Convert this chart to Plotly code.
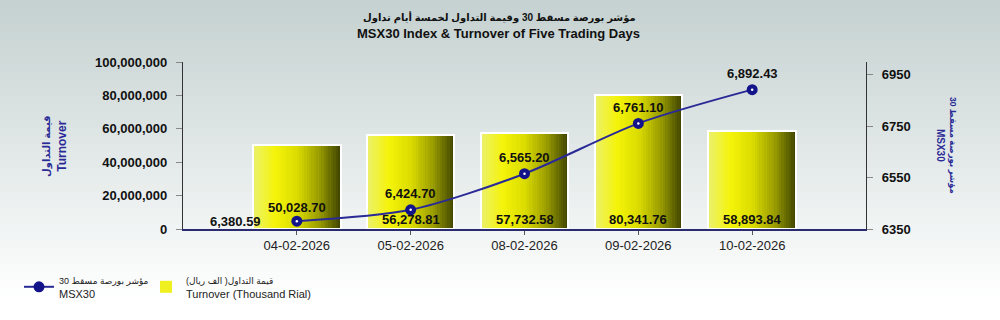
import plotly.graph_objects as go

# ---- data ----
dates = ["04-02-2026", "05-02-2026", "08-02-2026", "09-02-2026", "10-02-2026"]
turnover_thousand = [50028.70, 56278.81, 57732.58, 80341.76, 58893.84]
msx30 = [6380.59, 6424.70, 6565.20, 6761.10, 6892.43]
left_ticks = [0, 20000000, 40000000, 60000000, 80000000, 100000000]
right_ticks = [6350, 6550, 6750, 6950]

turnover_units = [v * 1000 for v in turnover_thousand]

FONT = "Liberation Sans, Arial, DejaVu Sans, sans-serif"
NAVY = "#2a2a96"

top_px, bottom_px = 62, 229
ph = bottom_px - top_px


def py(p):
    return (bottom_px - p) / ph


def px(p):
    return (p - 183) / 683


fig = go.Figure()

# gradient bars made of thin slices
BAR_W = 0.77
N = 36
stops = [(0.0, (236, 240, 110)), (0.25, (244, 244, 10)), (0.5, (220, 220, 0)),
         (0.75, (155, 158, 0)), (1.0, (62, 66, 0))]


def interp(t):
    for (t0, c0), (t1, c1) in zip(stops[:-1], stops[1:]):
        if t0 <= t <= t1:
            f = (t - t0) / (t1 - t0)
            return "rgb(%d,%d,%d)" % tuple(round(a + (b - a) * f) for a, b in zip(c0, c1))
    return "rgb(%d,%d,%d)" % stops[-1][1]


sw = BAR_W / N
for i in range(N):
    t = (i + 0.5) / N
    fig.add_trace(go.Bar(
        x=dates, y=turnover_units, width=sw * 1.05, offset=-BAR_W / 2 + i * sw,
        marker=dict(color=interp(t), line=dict(width=0)),
        showlegend=False, hoverinfo="skip", yaxis="y",
    ))
# legend entry for bars
fig.add_trace(go.Bar(
    x=dates, y=[None] * len(dates), marker=dict(color="#f0f020", line=dict(width=0)),
    name="<span style='font-size:9px'>قيمة التداول( الف ريال)</span><br>Turnover (Thousand Rial)",
    showlegend=True, legend="legend2", yaxis="y",
))
# white outline
fig.add_trace(go.Bar(
    x=dates, y=turnover_units, width=BAR_W,
    marker=dict(color="rgba(0,0,0,0)", line=dict(color="white", width=2)),
    showlegend=False, hoverinfo="skip", yaxis="y",
))

# MSX30 line
fig.add_trace(go.Scatter(
    x=dates, y=msx30, mode="lines+markers", yaxis="y2",
    line=dict(color=NAVY, width=2, shape="spline", smoothing=0.8),
    marker=dict(color="#14148a", size=11, line=dict(color="#14148a", width=0)),
    name="<span style='font-size:9px'>مؤشر بورصة مسقط 30</span><br>MSX30", legend="legend",
))
fig.add_trace(go.Scatter(
    x=dates, y=msx30, mode="markers", yaxis="y2",
    marker=dict(color="white", size=2.5), showlegend=False, hoverinfo="skip",
))

annotations = []
# line value labels
for i, (d, v) in enumerate(zip(dates, msx30)):
    if i == 0:
        annotations.append(dict(x=d, y=v, xref="x", yref="y2", text="{:,.2f}".format(v),
                                showarrow=False, xanchor="right", yanchor="middle",
                                xshift=-34, yshift=0,
                                font=dict(family=FONT, size=13, color="#111", weight="bold")))
    else:
        annotations.append(dict(x=d, y=v, xref="x", yref="y2", text="{:,.2f}".format(v),
                                showarrow=False, xanchor="center", yanchor="middle",
                                yshift=16,
                                font=dict(family=FONT, size=13, color="#111", weight="bold")))
# bar value labels
for i, (d, v) in enumerate(zip(dates, turnover_thousand)):
    annotations.append(dict(x=d, y=0, xref="x", yref="y", text="{:,.2f}".format(v),
                            showarrow=False, xanchor="center", yanchor="bottom",
                            yshift=12 if i == 0 else 0,
                            font=dict(family=FONT, size=13, color="#111", weight="bold")))

# titles
annotations.append(dict(x=px(499), y=py(17), xref="paper", yref="paper", xanchor="center",
                        yanchor="middle", showarrow=False,
                        text="مؤشر بورصة مسقط 30 وقيمة التداول لخمسة أيام تداول",
                        font=dict(family=FONT, size=10, color="#111", weight="bold")))
annotations.append(dict(x=px(498), y=py(33), xref="paper", yref="paper", xanchor="center",
                        yanchor="middle", showarrow=False,
                        text="MSX30 Index & Turnover of Five Trading Days",
                        font=dict(family=FONT, size=13, color="#111", weight="bold")))
# axis titles
annotations.append(dict(x=px(55), y=py(146), xref="paper", yref="paper", xanchor="center",
                        yanchor="middle",
                        text="<span style='font-size:10px'>قيمة التداول</span><br>Turnover",
                        textangle=-90, showarrow=False,
                        font=dict(family=FONT, size=12, color=NAVY, weight="bold")))
annotations.append(dict(x=px(947), y=py(145), xref="paper", yref="paper", xanchor="center",
                        yanchor="middle",
                        text="<span style='font-size:8.5px'>مؤشر بورصة مسقط 30</span><br>MSX30",
                        textangle=90, showarrow=False,
                        font=dict(family=FONT, size=10, color=NAVY, weight="bold")))

# background gradient (decorative)
shapes = []
H = 320
bands = 40
for k in range(bands):
    p0 = k * H / bands
    p1 = (k + 1) * H / bands
    t = min(1.0, ((p0 + p1) / 2) / 300.0)
    c0 = (196, 209, 208)
    col = "rgb(%d,%d,%d)" % tuple(round(a + (255 - a) * t) for a in c0)
    shapes.append(dict(type="rect", xref="paper", yref="paper",
                       x0=-0.3, x1=1.25, y0=py(p1), y1=py(p0),
                       fillcolor=col, line=dict(width=0), layer="below"))

legend_font = dict(family=FONT, size=11, color="#222")
fig.update_layout(
    width=1000, height=320,
    margin=dict(l=183, r=134, t=62, b=91),
    paper_bgcolor="white", plot_bgcolor="rgba(0,0,0,0)",
    barmode="overlay", bargap=0,
    font=dict(family=FONT, size=13, color="#222"),
    xaxis=dict(type="category", range=[-1, 5], showline=True, linecolor="#2a2a70", linewidth=1.5,
               ticks="outside", ticklen=4, tickcolor="#555", showgrid=False, zeroline=False,
               tickfont=dict(family=FONT, size=13, color="#222")),
    yaxis=dict(range=[0, 100000000], tickvals=left_ticks, tickformat=",d",
               showline=True, linecolor="#333", linewidth=1.2, ticks="outside", ticklen=6,
               tickcolor="#888", showgrid=False, zeroline=False, ticklabelstandoff=6,
               tickfont=dict(family=FONT, size=13, color="#111", weight="bold")),
    yaxis2=dict(range=[6350, 7000], tickvals=right_ticks, overlaying="y", side="right",
                showline=True, linecolor="#333", linewidth=1.2, ticks="outside", ticklen=6,
                tickcolor="#888", showgrid=False, zeroline=False, ticklabelstandoff=6,
                tickfont=dict(family=FONT, size=13, color="#111", weight="bold")),
    legend=dict(orientation="h", x=px(19), y=py(266), xanchor="left", yanchor="top",
                bgcolor="rgba(0,0,0,0)", font=legend_font, itemwidth=30),
    legend2=dict(orientation="h", x=px(146), y=py(266), xanchor="left", yanchor="top",
                 bgcolor="rgba(0,0,0,0)", font=legend_font, itemwidth=30),
    annotations=annotations,
    shapes=shapes,
    showlegend=True,
)

fig.write_html("out.html")
